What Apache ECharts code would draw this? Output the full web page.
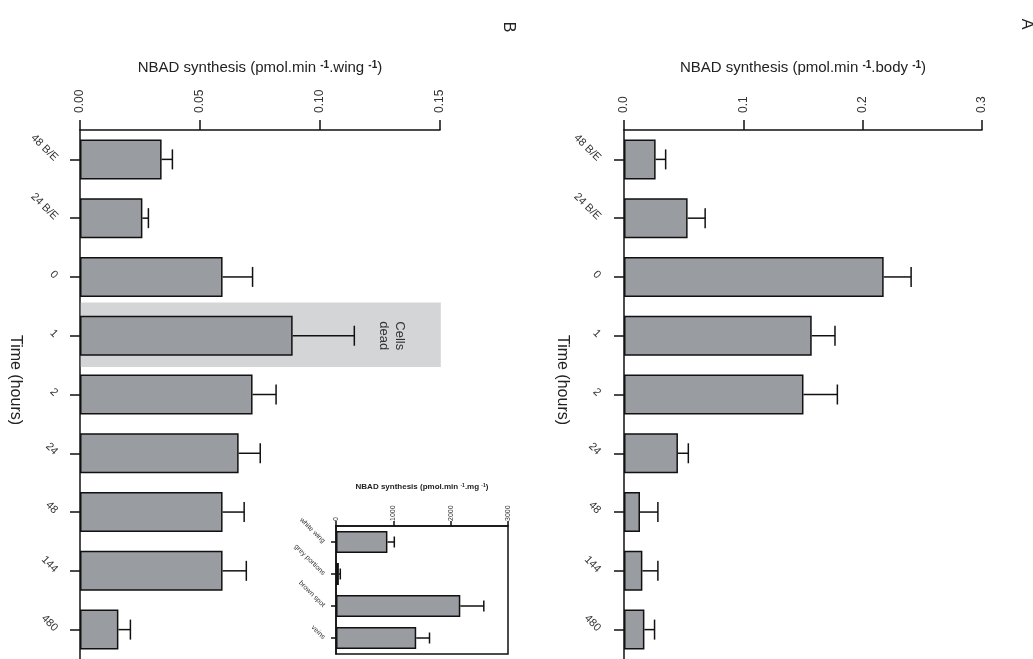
<!DOCTYPE html>
<html><head><meta charset="utf-8">
<script src="https://cdn.jsdelivr.net/npm/echarts@6/dist/echarts.min.js"></script>
<style>html,body{margin:0;padding:0;background:#fff}#c{width:1033px;height:659px}</style>
</head><body><div id="c"></div>
<script>
const timeCategories = ['48 B/E','24 B/E','0','1','2','24','48','144','480'];
const wingValues = [0.034, 0.026, 0.0594, 0.0886, 0.0719, 0.0661, 0.0594, 0.0594, 0.016];
const wingErrors = [0.0045, 0.0025, 0.0125, 0.0257, 0.0098, 0.009, 0.009, 0.0099, 0.005];
const bodyValues = [0.0265, 0.0533, 0.2176, 0.1573, 0.1504, 0.0452, 0.0134, 0.0154, 0.0171];
const bodyErrors = [0.0084, 0.0147, 0.023, 0.0195, 0.0284, 0.0087, 0.015, 0.013, 0.0085];
const regionCategories = ['white wing','grey portions','brown spot','veins'];
const regionValues = [897, 50, 2168, 1399];
const regionErrors = [120, 25, 410, 232];
const wingTicks = {min: 0, max: 0.15, interval: 0.05};
const bodyTicks = {min: 0, max: 0.3, interval: 0.1};
const regionTicks = {min: 0, max: 3000, interval: 1000};
const deadCategory = '1';

const FONT = "'Liberation Sans', Arial, sans-serif";
const INK = '#111';
const BAR = '#999ca1';

function catAxis(gi, data, opt) {
  return {
    type: 'category', gridIndex: gi, data: data, inverse: true,
    axisLine: {show: true, lineStyle: {color: INK, width: 1.5}},
    axisTick: {show: true, alignWithLabel: true, length: opt.tick, lineStyle: {color: INK, width: 1.5}},
    axisLabel: {rotate: -45, margin: opt.margin, fontSize: opt.fs, color: '#333', fontFamily: FONT},
    splitLine: {show: false}
  };
}
function valAxis(gi, t, opt) {
  return {
    type: 'value', gridIndex: gi, position: 'top', min: t.min, max: t.max, interval: t.interval,
    axisLine: {show: true, lineStyle: {color: INK, width: 1.5}},
    axisTick: {show: true, length: opt.tick, lineStyle: {color: INK, width: 1.5}},
    axisLabel: {rotate: -90, margin: opt.margin, fontSize: opt.fs, color: '#333', fontFamily: FONT,
      formatter: opt.fmt},
    splitLine: {show: false},
    name: opt.name, nameLocation: 'middle', nameGap: opt.nameGap,
    nameTextStyle: {fontSize: opt.nfs, color: '#222', fontFamily: FONT, fontWeight: opt.nfw || 'normal',
      rich: {sup: {fontSize: Math.round(opt.nfs * 0.68), verticalAlign: 'top', fontWeight: 'bold', color: '#222', fontFamily: FONT}}}
  };
}
function barSeries(i, vals, w) {
  return {type: 'bar', xAxisIndex: i, yAxisIndex: i, data: vals, barWidth: w, z: 3,
    itemStyle: {color: BAR, borderColor: INK, borderWidth: 1.5}, silent: true};
}
function errSeries(i, vals, errs, cap) {
  return {type: 'custom', xAxisIndex: i, yAxisIndex: i, z: 4, silent: true,
    data: vals.map((v, k) => [v, k, errs[k]]),
    encode: {x: 0, y: 1},
    renderItem: (p, api) => {
      const v = api.value(0), c = api.value(1), e = api.value(2);
      const a = api.coord([v, c]), b = api.coord([v + e, c]);
      return {type: 'group', children: [
        {type: 'line', shape: {x1: a[0], y1: a[1], x2: b[0], y2: b[1]}, style: {stroke: INK, lineWidth: 1.5}},
        {type: 'line', shape: {x1: b[0], y1: b[1] - cap, x2: b[0], y2: b[1] + cap}, style: {stroke: INK, lineWidth: 1.5}}
      ]};
    }};
}

const deadIndex = timeCategories.indexOf(deadCategory);

const option = {
  animation: false,
  backgroundColor: '#fff',
  textStyle: {fontFamily: FONT},
  grid: [
    {left: 80, top: 130, width: 360, height: 540},
    {left: 624, top: 130, width: 358, height: 540},
    {left: 336, top: 526, width: 172, height: 128, show: true, borderColor: INK, borderWidth: 1.5, backgroundColor: 'rgba(0,0,0,0)'}
  ],
  xAxis: [
    valAxis(0, wingTicks, {tick: 10, margin: 17, fs: 12, fmt: v => v.toFixed(2),
      name: 'NBAD synthesis (pmol.min {sup|-1}.wing {sup|-1})', nameGap: 55, nfs: 15}),
    valAxis(1, bodyTicks, {tick: 10, margin: 17, fs: 12, fmt: v => v.toFixed(1),
      name: 'NBAD synthesis (pmol.min {sup|-1}.body {sup|-1})', nameGap: 55, nfs: 15}),
    valAxis(2, regionTicks, {tick: 5, margin: 5, fs: 7, fmt: v => String(v),
      name: 'NBAD synthesis (pmol.min {sup|-1}.mg {sup|-1})', nameGap: 35, nfs: 8, nfw: 'bold'})
  ],
  yAxis: [
    catAxis(0, timeCategories, {tick: 10, margin: 24, fs: 11}),
    catAxis(1, timeCategories, {tick: 10, margin: 25, fs: 11}),
    catAxis(2, regionCategories, {tick: 5, margin: 12, fs: 7})
  ],
  series: [
    {type: 'custom', xAxisIndex: 0, yAxisIndex: 0, z: 1, silent: true,
      data: [[wingTicks.max, deadIndex]], encode: {x: 0, y: 1},
      renderItem: (p, api) => {
        const c = api.value(1);
        const a = api.coord([0, c]), b = api.coord([api.value(0), c]);
        const h = api.size([0, 1])[1] * 1.1;
        const t = api.coord([0.13, c]);
        return {type: 'group', children: [
          {type: 'rect', shape: {x: a[0] + 0.8, y: a[1] - h / 2 - 1, width: b[0] - a[0], height: h}, style: {fill: '#d4d5d7'}},
          {type: 'text', x: t[0], y: t[1], rotation: -Math.PI / 2,
            style: {text: 'Cells\ndead', fontSize: 13, lineHeight: 16, align: 'center', verticalAlign: 'middle', fill: '#333', fontFamily: FONT}}
        ]};
      }},
    barSeries(0, wingValues, 40),
    errSeries(0, wingValues, wingErrors, 10),
    barSeries(1, bodyValues, 40),
    errSeries(1, bodyValues, bodyErrors, 10),
    barSeries(2, regionValues, 22),
    errSeries(2, regionValues, regionErrors, 5.5)
  ],
  graphic: [
    {type: 'text', x: 15, y: 380, rotation: -Math.PI / 2,
      style: {text: 'Time (hours)', fontSize: 16, align: 'center', verticalAlign: 'middle', fill: '#222', fontFamily: FONT}},
    {type: 'text', x: 562, y: 380, rotation: -Math.PI / 2,
      style: {text: 'Time (hours)', fontSize: 16, align: 'center', verticalAlign: 'middle', fill: '#222', fontFamily: FONT}},
    {type: 'text', x: 508, y: 27, rotation: -Math.PI / 2,
      style: {text: 'B', fontSize: 16, align: 'center', verticalAlign: 'middle', fill: '#222', fontFamily: FONT}},
    {type: 'text', x: 1026, y: 24, rotation: -Math.PI / 2,
      style: {text: 'A', fontSize: 16, align: 'center', verticalAlign: 'middle', fill: '#222', fontFamily: FONT}}
  ]
};
const chart = echarts.init(document.getElementById('c'), null, {renderer: 'canvas'});
chart.setOption(option);
</script>
</body></html>
